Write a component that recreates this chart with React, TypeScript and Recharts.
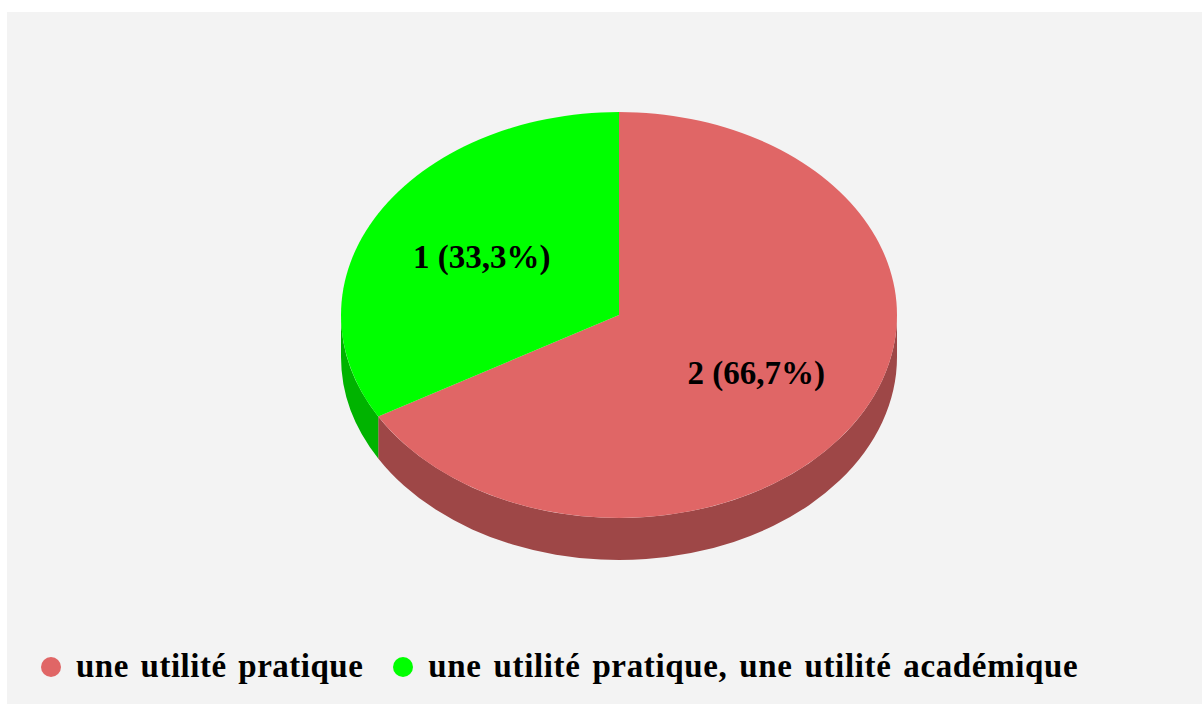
import { Legend, Pie, PieChart } from "recharts";

const categories = ["une utilité pratique", "une utilité pratique, une utilité académique"];
const counts = [2, 1];
const colors = ["#e06666", "#00ff00"];
const sideColors = ["#9e4747", "#00b300"];

const data = categories.map((name, i) => ({
  name,
  value: counts[i],
  fill: colors[i],
  side: sideColors[i],
}));

const SQUASH = 203 / 278;
const DEPTH = 42;
const FONT = "'Liberation Serif', serif";
const RAD = Math.PI / 180;

// recharts only draws round sectors, so the tilted look is done here
const TiltedSector = (props: any) => {
  const { cx, cy, outerRadius, startAngle, endAngle, fill, payload } = props;
  const rx = outerRadius;
  const ry = outerRadius * SQUASH;
  const px = (a: number) => cx + rx * Math.cos(a * RAD);
  const py = (a: number) => cy - ry * Math.sin(a * RAD);
  const large = Math.abs(endAngle - startAngle) > 180 ? 1 : 0;

  // side wall is only visible on the lower half of the ellipse
  const norm = (a: number) => ((a % 360) + 360) % 360;
  const hi = norm(startAngle) === 0 ? 360 : norm(startAngle);
  const from = Math.max(norm(endAngle), 180);
  const to = hi < 180 ? 360 : hi;
  const wall =
    to > from
      ? `M${px(from)},${py(from)} A${rx},${ry} 0 0 0 ${px(to)},${py(to)} L${px(to)},${py(to) + DEPTH} A${rx},${ry} 0 0 1 ${px(from)},${py(from) + DEPTH} Z`
      : null;

  return (
    <g>
      {wall && <path d={wall} fill={payload.side} />}
      <path
        d={`M${cx},${cy} L${px(startAngle)},${py(startAngle)} A${rx},${ry} 0 ${large} 1 ${px(endAngle)},${py(endAngle)} Z`}
        fill={fill}
      />
    </g>
  );
};

const renderLabel = (props: any) => {
  const { cx, cy, midAngle, outerRadius, value, percent } = props;
  const x = cx + 0.57 * outerRadius * Math.cos(midAngle * RAD);
  const y = cy - 0.57 * outerRadius * SQUASH * Math.sin(midAngle * RAD);
  return (
    <text
      x={x}
      y={y}
      textAnchor="middle"
      dominantBaseline="central"
      fontFamily={FONT}
      fontWeight="bold"
      fontSize={33}
      fill="#000"
    >
      {`${value} (${(percent * 100).toFixed(1).replace(".", ",")}%)`}
    </text>
  );
};

const renderLegend = () => (
  <div
    style={{
      display: "flex",
      alignItems: "center",
      fontFamily: FONT,
      fontWeight: "bold",
      fontSize: 33,
      wordSpacing: 3,
      color: "#000",
    }}
  >
    {data.map((d, i) => (
      <span
        key={d.name}
        style={{
          display: "flex",
          alignItems: "center",
          marginRight: i === 0 ? 30 : 0,
          letterSpacing: i === 0 ? 0.5 : 0.64,
        }}
      >
        <span style={{ width: 20, height: 20, borderRadius: "50%", background: d.fill, marginRight: 15 }} />
        {d.name}
      </span>
    ))}
  </div>
);

export default function App() {
  return (
    <div style={{ position: "absolute", left: 0, top: 0, width: 1202, height: 704, background: "#fff", overflow: "hidden" }}>
      <div style={{ position: "absolute", left: 7, top: 12, width: 1195, height: 692, background: "#f3f3f3" }}>
        <PieChart width={1195} height={692} margin={{ top: 0, right: 0, bottom: 0, left: 0 }}>
          <Pie
            data={data}
            dataKey="value"
            nameKey="name"
            cx={612}
            cy={303}
            outerRadius={278}
            startAngle={90}
            endAngle={-270}
            stroke="none"
            label={renderLabel}
            labelLine={false}
            shape={TiltedSector}
            inactiveShape={TiltedSector}
            isAnimationActive={false}
          />
          <Legend
            content={renderLegend}
            layout="horizontal"
            verticalAlign="bottom"
            align="left"
            wrapperStyle={{ left: 34, bottom: 19, width: 1150 }}
          />
        </PieChart>
      </div>
    </div>
  );
}
